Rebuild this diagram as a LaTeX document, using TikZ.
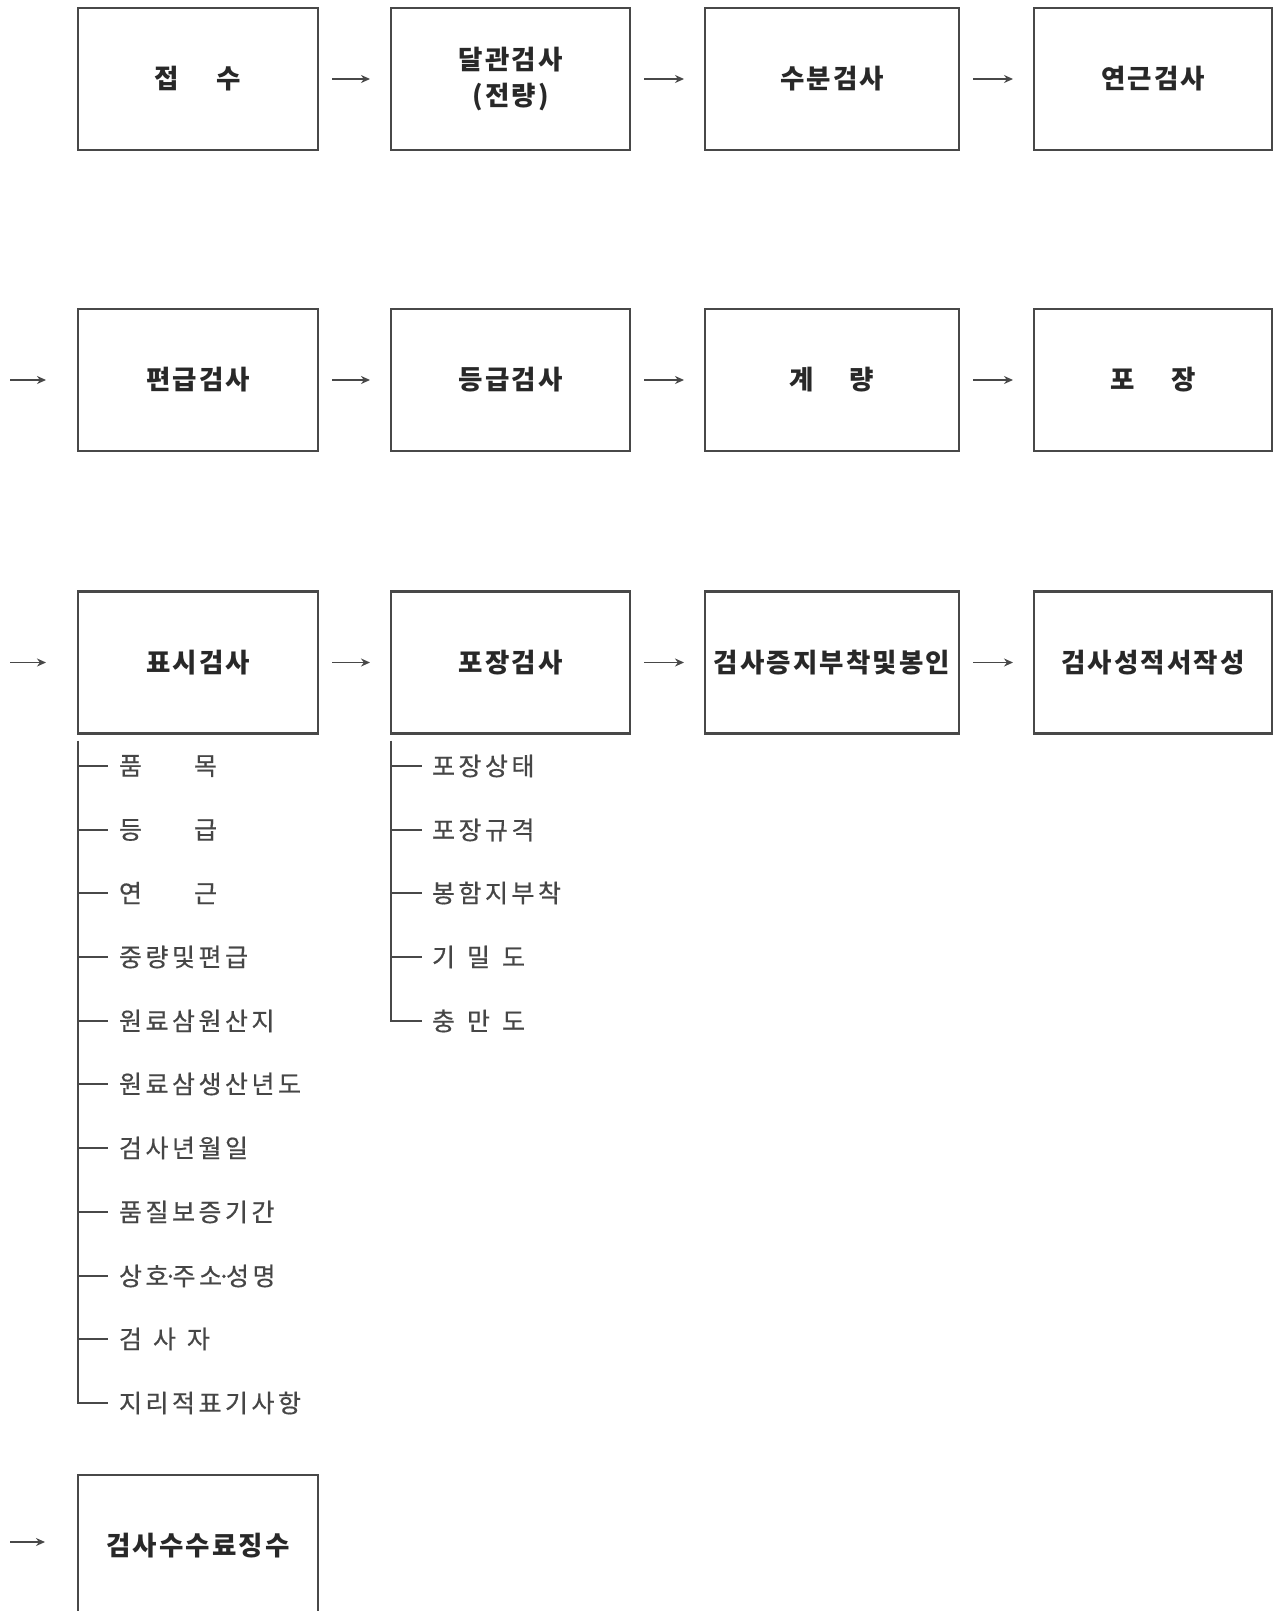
\documentclass[tikz,border=0pt]{standalone}
\usepackage{fontspec}
\newfontfamily\kr{Noto Sans CJK KR}[LetterSpace=8]
\newfontfamily\krl{Noto Sans CJK KR}[LetterSpace=14,FakeBold=0.5]
\usetikzlibrary{arrows.meta}
\definecolor{linec}{RGB}{72,72,72}
\definecolor{boxtext}{RGB}{40,40,40}
\definecolor{labtext}{RGB}{70,70,70}
\tikzset{
  box/.style={draw=linec, line width=2.2pt, minimum width=#1, minimum height=142pt,
    inner sep=0pt, outer sep=0pt, align=center, text=boxtext,
    font=\kr\bfseries\fontsize{26.5}{36}\selectfont},
  flow/.style={draw=linec, line width=1.5pt, -{Stealth[length=9pt,width=8pt]}},
  tree/.style={draw=linec, line width=2pt},
  lab/.style={anchor=west, inner sep=0pt, outer sep=0pt, text=labtext,
    font=\krl\fontsize{25}{28}\selectfont}
}
\begin{document}
\begin{tikzpicture}[x=1pt,y=-1pt]
\clip (0,0) rectangle (1277,1611);
\fill[white] (0,0) rectangle (1277,1611);
% row 1
\node[box=240pt] (a1) at (198,79) {접\hspace{38pt}수};
\node[box=239pt] (a2) at (510.5,79) {달관검사\\(전량)};
\node[box=254pt] (a3) at (832,79) {수분검사};
\node[box=238pt] (a4) at (1153,79) {연근검사};
% row 2
\node[box=240pt] (b1) at (198,380) {편급검사};
\node[box=239pt] (b2) at (510.5,380) {등급검사};
\node[box=254pt] (b3) at (832,380) {계\hspace{36pt}량};
\node[box=238pt] (b4) at (1153,380) {포\hspace{36pt}장};
% row 3
\node[box=240pt] (c1) at (198,662.5) {표시검사};
\node[box=239pt] (c2) at (510.5,662.5) {포장검사};
\node[box=254pt] (c3) at (832,662.5) {검사증지부착및봉인};
\node[box=238pt] (c4) at (1153,662.5) {검사성적서작성};
% row 4
\node[box=240pt] (d1) at (198,1546) {검사수수료징수};
% row-start coordinates
\coordinate (sb) at (10,380);
\coordinate (sc) at (10,662.5);
\coordinate (sd) at (10,1542);
\coordinate (de) at ([xshift=-33pt]d1.west);
% arrows
\foreach \p/\q in {a1/a2,a2/a3,a3/a4,b1/b2,b2/b3,b3/b4,c1/c2,c2/c3,c3/c4}
  \draw[flow] ([xshift=14pt]\p.east) -- ([xshift=-21pt]\q.west);
\draw[flow] (sb) -- ([xshift=-32pt]b1.west);
\draw[flow] (sc) -- ([xshift=-32pt]c1.west);
\draw[flow] (sd) -- (sd -| de);
% tree 1
\foreach \t [count=\i] in {{품\hspace{52pt}목},{등\hspace{52pt}급},{연\hspace{52pt}근},
  중량및편급,원료삼원산지,원료삼생산년도,검사년월일,품질보증기간,
  {상호\kern-5pt·\kern-5pt주소\kern-5pt·\kern-5pt성명},{검\hspace{11pt}사\hspace{11pt}자},지리적표기사항}
{
  \pgfmathsetmacro{\yy}{round(766+63.7*(\i-1))}
  \node[lab] (u\i) at (119,\yy) {\t};
  \draw[tree] (78,\yy) -- ([xshift=-11pt]u\i.west);
}
\draw[tree] ([yshift=-7pt]c1.south west) |- ([xshift=-11pt]u11.west);
% tree 2
\foreach \t [count=\i] in {포장상태,포장규격,봉함지부착,{기\hspace{12pt}밀\hspace{12pt}도},{충\hspace{12pt}만\hspace{12pt}도}}
{
  \pgfmathsetmacro{\yy}{round(766+63.7*(\i-1))}
  \node[lab] (v\i) at (432,\yy) {\t};
  \draw[tree] (391,\yy) -- ([xshift=-10pt]v\i.west);
}
\draw[tree] ([yshift=-7pt]c2.south west) |- ([xshift=-10pt]v5.west);
\end{tikzpicture}
\end{document}
